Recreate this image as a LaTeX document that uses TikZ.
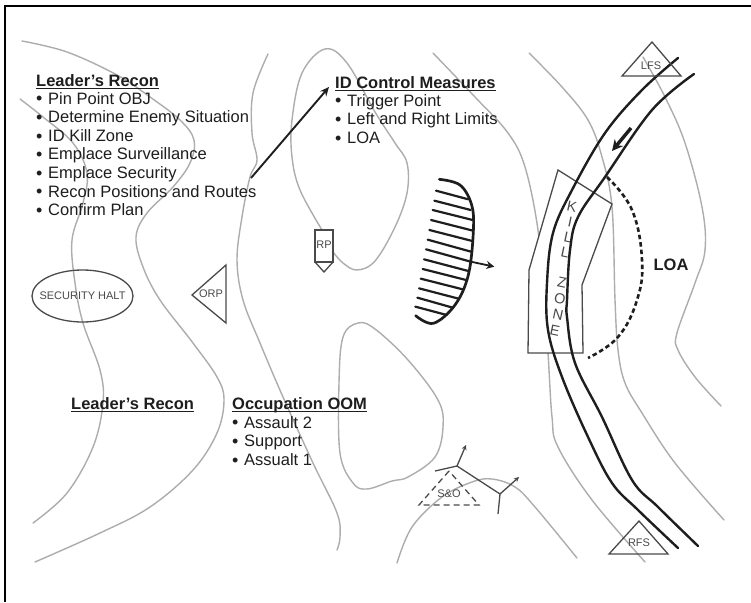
\documentclass[tikz,border=0pt]{standalone}
\usepackage{fontspec}
\setmainfont{Liberation Sans}
\usetikzlibrary{shapes.geometric,arrows.meta}
\definecolor{contourgray}{HTML}{ADADAD}
\definecolor{inkdark}{HTML}{1E1E1E}
\definecolor{inkmid}{HTML}{4A4A4A}
\newcommand{\bul}{\makebox[12pt][l]{\raisebox{-0.8pt}{\fontsize{18}{18}\selectfont •}}}
\newcommand{\headtxt}[1]{\underline{\smash{#1}}}
\tikzset{
  contour/.style={draw=contourgray,line width=1.4pt,line cap=round},
  road/.style={draw=inkdark,line width=2.4pt,line cap=round},
  thinline/.style={draw=inkmid,line width=1.3pt},
  head/.style={inner sep=0pt,anchor=base west,text=inkdark,font=\fontsize{16.5}{18.6}\selectfont\bfseries},
  listing/.style={inner sep=0pt,anchor=north west,align=left,text=inkdark,font=\fontsize{16.5}{18.6}\selectfont},
  small/.style={inner sep=0pt,text=inkmid,font=\fontsize{11}{13}\selectfont},
  kz/.style={inner sep=0pt,text=inkmid,rotate=-12,font=\fontsize{14.5}{15}\selectfont},
}
\begin{document}
\begin{tikzpicture}[x=1pt,y=-1pt]
\useasboundingbox (0,0) rectangle (751,602);
\fill[white] (0,0) rectangle (751,602);
% frame
\draw[black,line width=2.2pt] (5,602) -- (5,6) -- (751,6);
% contours
\draw[contour] plot[smooth,tension=.6] coordinates {(22,41)(67,52)(117,75)(150,97)(180,120)(194,140)(190,163)(173,187)(147,213)(136,237)(143,267)(160,300)(193,343)(217,377)(224,400)(217,433)(193,470)(150,507)(100,533)(35,562)};
\draw[contour] plot[smooth,tension=.6] coordinates {(20,99)(43,117)(73,143)(87,173)(83,203)(72,240)(75,283)(83,323)(100,370)(103,403)(93,447)(67,493)(33,523)};
\draw[contour] plot[smooth,tension=.6] coordinates {(268,54)(253,93)(252,133)(257,160)(250,177)(242,217)(237,260)(243,300)(260,343)(283,397)(313,463)(337,513)(340,537)(337,550)};
\draw[contour] plot[smooth,tension=.6] coordinates {(322,230)(300,190)(292,157)(292,120)(302,73)(325,49)(347,63)(375,112)(395,143)(407,163)(407,193)(395,227)(375,261)(357,270)(343,263)(333,252)};
\draw[contour] plot[smooth cycle,tension=.6] coordinates {(375,329)(358,323)(343,337)(339,383)(340,453)(353,483)(367,489)(392,481)(408,477)(435,457)(443,427)(438,400)(408,360)};
\draw[contour] plot[smooth,tension=.6] coordinates {(433,53)(475,97)(508,133)(525,167)(538,230)(544,300)(548,353)(552,417)(558,447)(592,500)(645,562)};
\draw[contour] plot[smooth,tension=.6] coordinates {(529,53)(562,87)(588,120)(602,157)(612,207)(615,300)(618,350)(625,383)(642,413)(675,463)(724,520)};
\draw[contour] plot[smooth,tension=.6] coordinates {(643,57)(665,97)(685,143)(702,207)(705,250)(695,283)(677,333)(678,350)(695,377)(721,406)};
\draw[contour] plot[smooth,tension=.6] coordinates {(397,563)(412,527)(442,497)(472,482)(492,479)(515,487)(535,507)(577,558)};
% kill zone
\draw[thinline,fill=white,line join=miter] (558,170) -- (612,204) -- (582,285) -- (583,353) -- (528,353) -- (529,270) -- cycle;
\node[kz] (k1) at (572,207) {K};
\node[kz] (k2) at (570,222) {I};
\node[kz] (k3) at (568,237) {L};
\node[kz] (k4) at (565,252) {L};
\node[kz] (k5) at (562,283) {Z};
\node[kz] (k6) at (560,299) {O};
\node[kz] (k7) at (558,315) {N};
\node[kz] (k8) at (555,331) {E};
% roads
\draw[road] plot[smooth,tension=.6] coordinates {(678,58)(642,90)(605,133)(572,190)(553,233)(547,283)(548,330)(562,377)(588,437)(612,483)(638,510)(678,548)};
\draw[road] plot[smooth,tension=.6] coordinates {(694,74)(652,110)(605,177)(578,217)(570,250)(567,300)(567,317)(575,363)(602,417)(632,480)(658,507)(698,546)};
\coordinate (dirA) at (631,128);
\coordinate (dirB) at (612,151);
\draw[inkdark,line width=3.4pt,-{Stealth[length=11pt,width=11pt]}] (dirA) -- (dirB);
% LOA arc
\draw[inkdark,line width=2.6pt,dash pattern=on 4.5pt off 3pt] plot[smooth,tension=.7] coordinates {(607,177)(632,210)(642,260)(637,300)(618,337)(588,358)};
\node[inner sep=0pt,text=inkdark,font=\fontsize{16.5}{18}\selectfont\bfseries] (loa) at (671,265) {LOA};
% hatched position
\begin{scope}[shift={(400,165)},x=.3333pt,y=-.3333pt]
\coordinate (hatchR) at (212,290);
\coordinate (hatchT) at (283,305);
\draw[inkdark,line width=2.7pt,line cap=round] plot[smooth,tension=.6] coordinates {(118,43)(180,60)(215,120)(220,200)(205,330)(165,420)(100,475)(47,452)};
\foreach \a/\b/\c/\d in {108/77/205/103,103/107/212/135,98/135/218/165,93/165/219/197,88/195/217/228,83/224/213/260,78/253/212/290,72/283/205/318,68/312/198/345,62/341/188/373,57/370/172/400,52/398/158/428,46/425/140/450}
  \draw[inkdark,line width=2.2pt,line cap=round] (\a,\b) -- (\c,\d);
\draw[inkdark,line width=1.8pt,-{Stealth[length=8pt,width=8pt]}] (hatchR) -- (hatchT);
\end{scope}
% left symbols
\draw[thinline] (82.5,296) ellipse [x radius=50.5,y radius=26];
\node[small] (halt) at (82.5,296) {SECURITY HALT};
\draw[thinline,line join=miter] (192,295) -- (226,265) -- (226,323) -- cycle;
\node[small] (orp) at (211,294) {ORP};
\draw[thinline,fill=white] (315,230) rectangle (333,262);
\draw[thinline,line join=miter] (315,262) -- (324,272) -- (333,262);
\node[small] (rp) at (324,245) {RP};
\draw[thinline,line join=miter] (652,42) -- (622,76) -- (681,76) -- cycle;
\node[small] (lfs) at (651,66) {LFS};
\draw[thinline,line join=miter] (639,521) -- (609,554) -- (668,554) -- cycle;
\node[small] (rfs) at (639,543) {RFS};
\draw[thinline,dash pattern=on 6pt off 4pt] (449,471) -- (419,505) -- (479,505) -- cycle;
\node[small] (sno) at (449,494) {S\&O};
% fire symbol
\coordinate (fa) at (457,466);
\coordinate (fb) at (500,494);
\coordinate (fc) at (435,471);
\coordinate (fd) at (466,445);
\coordinate (fe) at (498,514);
\coordinate (ff) at (519,477);
\draw[thinline] (fc) -- (fa) -- (fb) -- (fe);
\draw[thinline,-{Stealth[length=5pt,width=5pt]}] (fa) -- (fd);
\draw[thinline,-{Stealth[length=5pt,width=5pt]}] (fb) -- (ff);
% texts
\node[head] (h1) at (36,86.5) {\headtxt{Leader’s Recon}};
\node[listing] (l1) at (36,92) {\bul Pin Point OBJ\\\bul Determine Enemy Situation\\\bul ID Kill Zone\\\bul Emplace Surveillance\\\bul Emplace Security\\\bul Recon Positions and Routes\\\bul Confirm Plan};
\node[head] (h2) at (335,88.5) {\headtxt{ID Control Measures}};
\node[listing] (l2) at (335,94) {\bul Trigger Point\\\bul Left and Right Limits\\\bul LOA};
\node[head] (h3) at (71,409.5) {\headtxt{Leader’s Recon}};
\node[head] (h4) at (232,409.5) {\headtxt{Occupation OOM}};
\node[listing] (l4) at (232,416) {\bul Assault 2\\\bul Support\\\bul Assualt 1};
\coordinate (arrS) at (251,178);
\coordinate (arrE) at (329,87);
\draw[inkdark,line width=1.9pt,-{Stealth[length=9pt,width=8pt]}] (arrS) -- (arrE);
\end{tikzpicture}
\end{document}
